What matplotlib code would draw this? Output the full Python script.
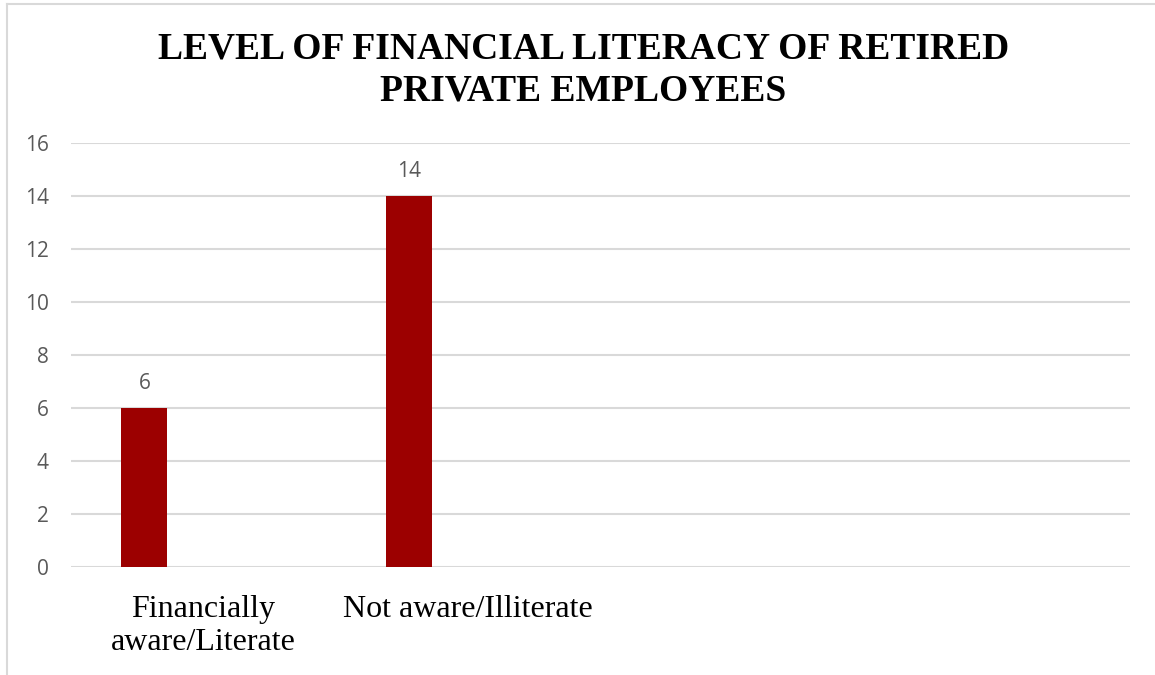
import matplotlib.pyplot as plt
from matplotlib.lines import Line2D

# Survey counts for retired private employees
categories = ['Financially\naware/Literate', 'Not aware/Illiterate', '', '']
counts = [6, 14]
yticks = [0, 2, 4, 6, 8, 10, 12, 14, 16]

bar_color = '#9c0000'
grid_color = '#d9d9d9'
label_gray = '#595959'

fig = plt.figure(figsize=(11.55, 6.75), dpi=100)
ax = fig.add_axes([0.0615, 0.16, 0.9165, 0.628])

# first series of a clustered layout, so bars sit left of the slot centre
offset = -0.223
xs = [i + offset for i in range(len(counts))]
bars = ax.bar(xs, counts, width=0.174, color=bar_color, zorder=3)

for x, v in zip(xs, counts):
    ax.annotate(str(v), (x, v), xytext=(0, 10), textcoords='offset points',
                ha='center', va='bottom', fontsize=15, color=label_gray,
                family='Open Sans')

ax.set_xlim(-0.5, len(categories) - 0.5)
ax.set_ylim(0, 16)
ax.set_yticks(yticks)
ax.set_xticks(range(len(categories)))
ax.set_xticklabels(categories, family='Liberation Serif', fontsize=23,
                   linespacing=1.2)
ax.tick_params(axis='x', length=0, pad=20)
ax.tick_params(axis='y', length=0, pad=16, labelcolor=label_gray,
               labelsize=15)
for lab in ax.get_yticklabels():
    lab.set_family('Open Sans')

ax.grid(axis='y', color=grid_color, linewidth=1.5, zorder=0)
for s in ax.spines.values():
    s.set_visible(False)

fig.text(0.505, 0.896, 'LEVEL OF FINANCIAL LITERACY OF RETIRED\nPRIVATE EMPLOYEES',
         ha='center', va='center', family='Liberation Serif',
         fontweight='bold', fontsize=27, linespacing=1.25)

# chart frame (left and top edges)
fig.add_artist(Line2D([7 / 1155, 7 / 1155], [0, 1 - 4 / 675],
                      transform=fig.transFigure, color=grid_color, lw=1.5))
fig.add_artist(Line2D([7 / 1155, 1], [1 - 4 / 675, 1 - 4 / 675],
                      transform=fig.transFigure, color=grid_color, lw=1.5))

plt.savefig('out.png', dpi=100)
